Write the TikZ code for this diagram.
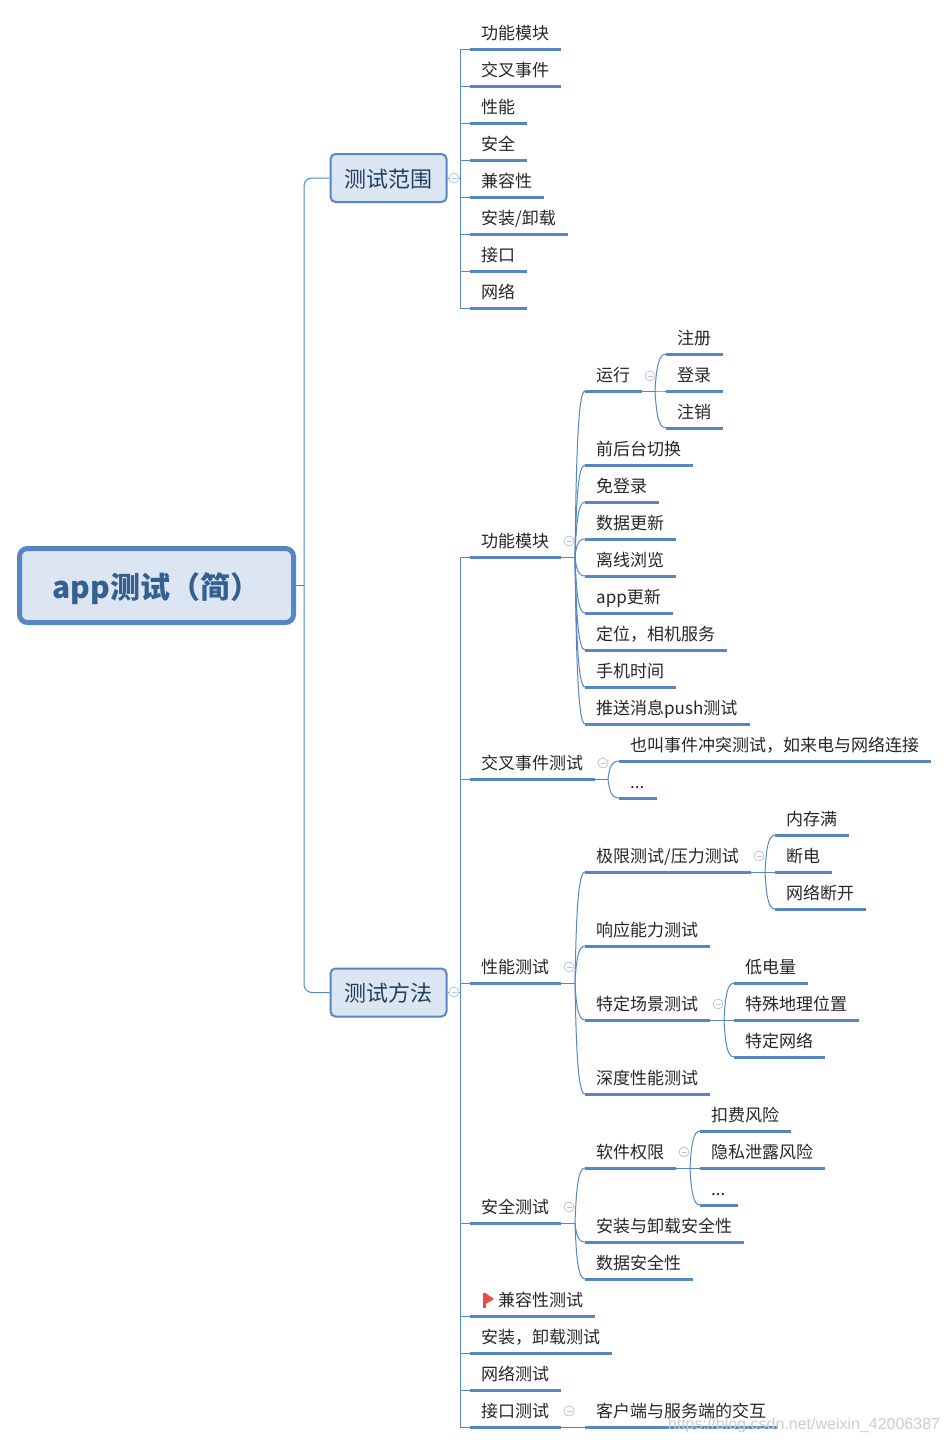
\documentclass[tikz,border=0pt]{standalone}
\usepackage{fontspec}
\usetikzlibrary{calc}
\setmainfont{Noto Sans CJK SC}
\newfontfamily\urlfont{Liberation Sans}
\definecolor{linecol}{HTML}{5686C4}
\definecolor{boxfill}{HTML}{DCE6F2}
\definecolor{boxtext}{HTML}{22405F}
\definecolor{roottext}{HTML}{34608F}
\definecolor{flagred}{HTML}{EE4B45}
\definecolor{foldcol}{HTML}{B9C6D6}
\definecolor{urlcol}{HTML}{C9CDD2}
\tikzset{
  root/.style={draw=linecol,line width=5pt,fill=boxfill,rounded corners=8,text=roottext,font=\fontsize{30}{36}\selectfont\bfseries,text height=30pt,text depth=4pt,minimum width=274,minimum height=74,inner sep=0},
  sub/.style={draw=linecol,line width=2pt,fill=boxfill,rounded corners=5,text=boxtext,font=\fontsize{22}{26}\selectfont,text height=22pt,text depth=3.2pt,minimum width=116,minimum height=48,inner sep=0},
  topic/.style={anchor=south west,inner xsep=11pt,inner ysep=9pt,text depth=0pt,font=\fontsize{17}{20}\selectfont,text=black!85,execute at end node={\hspace*{1pt}}},
  bar/.style={draw=linecol,line width=3pt},
  link/.style={draw=linecol,line width=1pt},
  fan/.style={to path={.. controls ($(\tikztostart)!0.23!(\tikztotarget)!0.48!(\tikztostart |- \tikztotarget)$) and ($(\tikztotarget)!0.7!(\tikztostart |- \tikztotarget)$) .. (\tikztotarget)}},
  fold/.style={circle,draw=foldcol,fill=white,line width=0.8pt,minimum size=10,inner sep=0,
    path picture={\draw[foldcol,line width=0.8pt] ([xshift=2.5pt]path picture bounding box.west) -- ([xshift=-2.5pt]path picture bounding box.east);}}
}
\begin{document}
\begin{tikzpicture}[x=1pt,y=-1pt]
  \useasboundingbox (0,0) rectangle (949,1444);

  \node (root) at (156.5,585.5) [root]{app测试（简）};
  \node (scope) at (388.5,178) [sub]{测试范围};
  \node (method) at (388.5,992.5) [sub]{测试方法};

  % first branch
  \node (s1) at (470,49) [topic]{功能模块};
  \node (s2) at (470,86) [topic]{交叉事件};
  \node (s3) at (470,123) [topic]{性能};
  \node (s4) at (470,160) [topic]{安全};
  \node (s5) at (470,197) [topic]{兼容性};
  \node (s6) at (470,234) [topic]{安装/卸载};
  \node (s7) at (470,271) [topic]{接口};
  \node (s8) at (470,308) [topic]{网络};

  % second branch
  \node (func) at (470,557) [topic]{功能模块};
  \node (cross) at (470,779) [topic]{交叉事件测试};
  \node (perf) at (470,983) [topic]{性能测试};
  \node (safe) at (470,1223) [topic]{安全测试};
  \node (compat) at (470,1316) [topic]{\hspace*{17pt}兼容性测试};
  \node (inst) at (470,1353) [topic]{安装，卸载测试};
  \node (net) at (470,1390) [topic]{网络测试};
  \node (api) at (470,1427) [topic]{接口测试};

  \node (run) at (585,391) [topic]{运行};
  \node (f2) at (585,465) [topic]{前后台切换};
  \node (f3) at (585,502) [topic]{免登录};
  \node (f4) at (585,539) [topic]{数据更新};
  \node (f5) at (585,576) [topic]{离线浏览};
  \node (f6) at (585,613) [topic]{app更新};
  \node (f7) at (585,650) [topic]{定位，相机服务};
  \node (f8) at (585,687) [topic]{手机时间};
  \node (f9) at (585,724) [topic]{推送消息push测试};

  \node (r1) at (666,354) [topic]{注册};
  \node (r2) at (666,391) [topic]{登录};
  \node (r3) at (666,428) [topic]{注销};

  \node (c1) at (619,761) [topic]{也叫事件冲突测试，如来电与网络连接};
  \node (c2) at (619,798) [topic]{...};

  \node (limit) at (585,872) [topic]{极限测试/压力测试};
  \node (p2) at (585,946) [topic]{响应能力测试};
  \node (scene) at (585,1020) [topic]{特定场景测试};
  \node (p4) at (585,1094) [topic]{深度性能测试};

  \node (l1) at (775,835) [topic]{内存满};
  \node (l2) at (775,872) [topic]{断电};
  \node (l3) at (775,909) [topic]{网络断开};

  \node (e1) at (734,983) [topic]{低电量};
  \node (e2) at (734,1020) [topic]{特殊地理位置};
  \node (e3) at (734,1057) [topic]{特定网络};

  \node (perm) at (585,1168) [topic]{软件权限};
  \node (a2) at (585,1242) [topic]{安装与卸载安全性};
  \node (a3) at (585,1279) [topic]{数据安全性};

  \node (w1) at (700,1131) [topic]{扣费风险};
  \node (w2) at (700,1168) [topic]{隐私泄露风险};
  \node (w3) at (700,1205) [topic]{...};

  \node (i1) at (585,1427) [topic]{客户端与服务端的交互};

  % trunks the branches leave from
  \coordinate (roott) at (304,585.5);
  \coordinate (scopet) at (460,178);
  \coordinate (methodt) at (460,992.5);
  \coordinate (funct) at (575,557);
  \coordinate (runt) at (655,391);
  \coordinate (crosst) at (608,779);
  \coordinate (perft) at (575,983);
  \coordinate (limitt) at (765,872);
  \coordinate (scenet) at (724,1020);
  \coordinate (safet) at (575,1223);
  \coordinate (permt) at (690,1168);

  \draw[link] (root.east) -- (roott);
  \foreach \n in {scope,method}
    \draw[link,rounded corners=8] (roott) |- (\n.west);

  \draw[link] (scope.east) -- (scopet);
  \foreach \n in {s1,s2,s3,s4,s5,s6,s7,s8}
    \draw[link] (scopet) |- (\n.south west);

  \draw[link] (method.east) -- (methodt);
  \foreach \n in {func,cross,perf,safe,compat,inst,net,api}
    \draw[link] (methodt) |- (\n.south west);

  \draw[link] (func.south east) -- (funct);
  \foreach \n in {run,f2,f3,f4,f5,f6,f7,f8,f9}
    \draw[link,fan] (funct) to (\n.south west);

  \draw[link] (run.south east) -- (runt);
  \foreach \n in {r1,r2,r3}
    \draw[link,fan] (runt) to (\n.south west);

  \draw[link] (cross.south east) -- (crosst);
  \foreach \n in {c1,c2}
    \draw[link,fan] (crosst) to (\n.south west);

  \draw[link] (perf.south east) -- (perft);
  \foreach \n in {limit,p2,scene,p4}
    \draw[link,fan] (perft) to (\n.south west);

  \draw[link] (limit.south east) -- (limitt);
  \foreach \n in {l1,l2,l3}
    \draw[link,fan] (limitt) to (\n.south west);

  \draw[link] (scene.south east) -- (scenet);
  \foreach \n in {e1,e2,e3}
    \draw[link,fan] (scenet) to (\n.south west);

  \draw[link] (safe.south east) -- (safet);
  \foreach \n in {perm,a2,a3}
    \draw[link,fan] (safet) to (\n.south west);

  \draw[link] (perm.south east) -- (permt);
  \foreach \n in {w1,w2,w3}
    \draw[link,fan] (permt) to (\n.south west);

  \draw[link] (api.south east) -- (i1.south west);

  % underlines
  \foreach \n in {s1,s2,s3,s4,s5,s6,s7,s8,func,cross,perf,safe,compat,inst,net,api,
      run,f2,f3,f4,f5,f6,f7,f8,f9,r1,r2,r3,c1,c2,limit,p2,scene,p4,l1,l2,l3,
      e1,e2,e3,perm,a2,a3,w1,w2,w3,i1}
    \draw[bar] (\n.south west) -- (\n.south east);

  % collapse marks
  \node (k1) at (454,178) [fold]{};
  \node (k2) at (454,992) [fold]{};
  \node (k3) at (569,541) [fold]{};
  \node (k4) at (650,376) [fold]{};
  \node (k5) at (603,763) [fold]{};
  \node (k6) at (569,967) [fold]{};
  \node (k7) at (759,856) [fold]{};
  \node (k8) at (718,1004) [fold]{};
  \node (k9) at (569,1207) [fold]{};
  \node (k10) at (684,1152) [fold]{};
  \node (k11) at (569,1411) [fold]{};

  % flag
  \fill[flagred] (483,1293) rectangle (485.5,1308);
  \fill[flagred] (485.5,1293) -- (494,1299) -- (485.5,1304) -- cycle;

  \node (url) at (804,1425) [font=\urlfont\fontsize{16}{20}\selectfont,text=urlcol,inner sep=0]{https://blog.csdn.net/weixin\_42006387};
\end{tikzpicture}
\end{document}
